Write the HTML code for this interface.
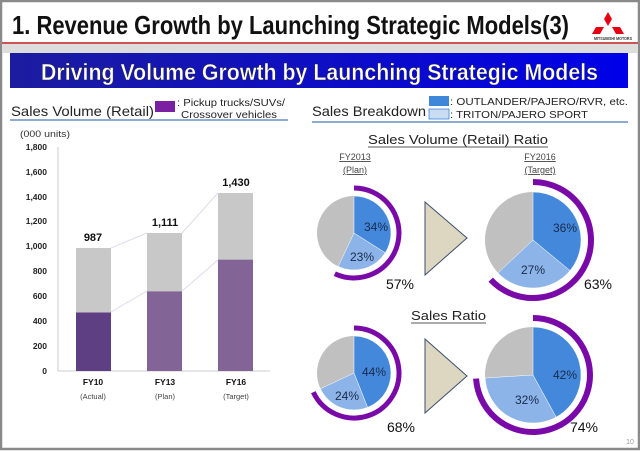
<!DOCTYPE html>
<html><head><style>
body{margin:0;background:#fff}
svg{display:block;font-family:"Liberation Sans",Arial,sans-serif}
</style></head><body>
<svg width="640" height="451" viewBox="0 0 640 451" xmlns="http://www.w3.org/2000/svg" font-family="Liberation Sans, Arial, sans-serif">
<defs>
<linearGradient id="bn" x1="0" x2="1" y1="0" y2="0"><stop offset="0" stop-color="#1c1ca0"/><stop offset="1" stop-color="#0000e8"/></linearGradient>
</defs>
<rect x="0" y="0" width="640" height="451" fill="#fff"/>
<rect x="1" y="1" width="638" height="448" fill="none" stroke="#8a8a8a" stroke-width="2.5"/>
<text x="12" y="34" font-size="26" font-weight="bold" fill="#111" textLength="557" lengthAdjust="spacingAndGlyphs">1. Revenue Growth by Launching Strategic Models(3)</text>
<polygon points="608,12 612,19 608,26 604,19" fill="#e60012"/>
<polygon points="604,27 600,34 592,34 596,27" fill="#e60012"/>
<polygon points="612,27 620,27 624,34 616,34" fill="#e60012"/>
<text x="594" y="40" font-size="4.5" fill="#333" font-weight="bold" textLength="38" lengthAdjust="spacingAndGlyphs">MITSUBISHI MOTORS</text>
<rect x="2" y="42" width="636" height="2" fill="#c55"/>
<rect x="2" y="44" width="636" height="9" fill="#ddd"/>
<rect x="10" y="53" width="618" height="35" fill="url(#bn)"/>
<text x="41" y="80" font-size="23" font-weight="bold" fill="#fff" stroke="#223" stroke-width="0.4" textLength="557" lengthAdjust="spacingAndGlyphs">Driving Volume Growth by Launching Strategic Models</text>
<text x="11" y="116" font-size="14" fill="#222" textLength="143" lengthAdjust="spacingAndGlyphs">Sales Volume (Retail)</text>
<rect x="155" y="101" width="20" height="11" fill="#7a1fa2"/>
<text x="177" y="106" font-size="10" fill="#222" textLength="108" lengthAdjust="spacingAndGlyphs">: Pickup trucks/SUVs/</text>
<text x="181" y="118" font-size="10" fill="#222" textLength="96" lengthAdjust="spacingAndGlyphs">Crossover vehicles</text>
<line x1="10" y1="120" x2="288" y2="120" stroke="#4a7bb5" stroke-width="1.2"/>
<text x="312" y="116" font-size="14" fill="#222" textLength="114" lengthAdjust="spacingAndGlyphs">Sales Breakdown</text>
<rect x="429" y="96" width="20" height="10" fill="#3f87d9"/>
<rect x="429" y="109" width="20" height="10" fill="#c9dcf2" stroke="#3f87d9" stroke-width="0.8"/>
<text x="450" y="105" font-size="10" fill="#222" textLength="178" lengthAdjust="spacingAndGlyphs">: OUTLANDER/PAJERO/RVR, etc.</text>
<text x="450" y="118" font-size="10" fill="#222" textLength="138" lengthAdjust="spacingAndGlyphs">: TRITON/PAJERO SPORT</text>
<line x1="312" y1="122" x2="628" y2="122" stroke="#4a7bb5" stroke-width="1.2"/>
<!-- bar chart -->
<text x="20" y="137" font-size="9" fill="#333" textLength="50" lengthAdjust="spacingAndGlyphs">(000 units)</text>
<g font-size="8.5" font-weight="bold" fill="#222" text-anchor="end">
<text x="47" y="374">0</text><text x="47" y="349">200</text><text x="47" y="324">400</text><text x="47" y="299">600</text><text x="47" y="274">800</text><text x="47" y="249">1,000</text><text x="47" y="224">1,200</text><text x="47" y="200">1,400</text><text x="47" y="175">1,600</text><text x="47" y="150">1,800</text>
</g>
<line x1="58" y1="147" x2="58" y2="371" stroke="#ccc"/>
<line x1="58" y1="371" x2="270" y2="371" stroke="#ccc"/>
<g stroke="#dcdcee" stroke-width="1">
<line x1="111" y1="248" x2="147" y2="233"/><line x1="182" y1="233" x2="218" y2="193"/>
<line x1="111" y1="312" x2="147" y2="291"/><line x1="182" y1="291" x2="218" y2="260"/>
</g>
<rect x="76" y="248" width="35" height="123" fill="#c8c8c8"/>
<rect x="76" y="312.5" width="35" height="58.5" fill="#5f3f84"/>
<rect x="147" y="233" width="35" height="138" fill="#c8c8c8"/>
<rect x="147" y="291.4" width="35" height="79.6" fill="#836496"/>
<rect x="218" y="193" width="35" height="178" fill="#c8c8c8"/>
<rect x="218" y="259.7" width="35" height="111.3" fill="#836496"/>
<g font-size="11" font-weight="bold" fill="#111" text-anchor="middle">
<text x="93" y="241">987</text><text x="165" y="226">1,111</text><text x="236" y="186">1,430</text>
</g>
<g font-size="8.5" font-weight="bold" fill="#111" text-anchor="middle">
<text x="93" y="385">FY10</text><text x="165" y="385">FY13</text><text x="236" y="385">FY16</text>
</g>
<g font-size="7.5" fill="#444" text-anchor="middle">
<text x="93" y="399">(Actual)</text><text x="165" y="399">(Plan)</text><text x="236" y="399">(Target)</text>
</g>
<!-- right -->
<text x="368" y="144" font-size="13" fill="#222" textLength="180" lengthAdjust="spacingAndGlyphs">Sales Volume (Retail) Ratio</text>
<line x1="368" y1="147" x2="548" y2="147" stroke="#222" stroke-width="0.8"/>
<g font-size="9" fill="#444" text-anchor="middle" text-decoration="underline">
<text x="355" y="160">FY2013</text><text x="355" y="173">(Plan)</text>
<text x="540" y="160">FY2016</text><text x="540" y="173">(Target)</text>
</g>
<text x="411" y="320" font-size="13" fill="#222" textLength="75" lengthAdjust="spacingAndGlyphs">Sales Ratio</text>
<line x1="411" y1="323" x2="486" y2="323" stroke="#222" stroke-width="0.8"/>
<polygon points="425,202 467,238 425,275" fill="#ddd6c0" stroke="#3a5070" stroke-width="1"/>
<polygon points="425,339 467,376 425,413" fill="#ddd6c0" stroke="#3a5070" stroke-width="1"/>
<!-- pie1 -->
<circle cx="354" cy="233" r="37" fill="#c0c0c0"/>
<path d="M354,233 L354,196 A37,37 0 0 1 385.2,252.8 Z" fill="#4388db" stroke="#fff" stroke-width="0.5"/>
<path d="M354,233 L385.2,252.8 A37,37 0 0 1 338.2,266.5 Z" fill="#8cb4e8" stroke="#fff" stroke-width="0.5"/>
<path d="M354,188 A45,45 0 1 1 334.8,273.7" fill="none" stroke="#7a0aa8" stroke-width="5"/>
<!-- pie2 -->
<circle cx="533" cy="240" r="48" fill="#c0c0c0"/>
<path d="M533,240 L533,192 A48,48 0 0 1 570,270.6 Z" fill="#4388db" stroke="#fff" stroke-width="0.5"/>
<path d="M533,240 L570,270.6 A48,48 0 0 1 498,272.9 Z" fill="#8cb4e8" stroke="#fff" stroke-width="0.5"/>
<path d="M533,182 A58,58 0 1 1 490.7,279.7" fill="none" stroke="#7a0aa8" stroke-width="6"/>
<!-- pie3 -->
<circle cx="354" cy="373" r="37" fill="#c0c0c0"/>
<path d="M354,373 L354,336 A37,37 0 0 1 367.6,407.4 Z" fill="#4388db" stroke="#fff" stroke-width="0.5"/>
<path d="M354,373 L367.6,407.4 A37,37 0 0 1 320.5,388.8 Z" fill="#8cb4e8" stroke="#fff" stroke-width="0.5"/>
<path d="M354,328 A45,45 0 1 1 313.3,392.2" fill="none" stroke="#7a0aa8" stroke-width="5"/>
<!-- pie4 -->
<circle cx="533" cy="375" r="48" fill="#c0c0c0"/>
<path d="M533,375 L533,327 A48,48 0 0 1 556.1,417.1 Z" fill="#4388db" stroke="#fff" stroke-width="0.5"/>
<path d="M533,375 L556.1,417.1 A48,48 0 0 1 485.1,378 Z" fill="#8cb4e8" stroke="#fff" stroke-width="0.5"/>
<path d="M533,318 A57,57 0 1 1 476.1,378.6" fill="none" stroke="#7a0aa8" stroke-width="6"/>
<g font-size="12" fill="#1a2a4a" text-anchor="middle">
<text x="376" y="231">34%</text><text x="362" y="261">23%</text>
<text x="565" y="232">36%</text><text x="533" y="274">27%</text>
<text x="374" y="376">44%</text><text x="347" y="400">24%</text>
<text x="565" y="379">42%</text><text x="527" y="404">32%</text>
</g>
<g font-size="14" fill="#111" text-anchor="middle">
<text x="400" y="289">57%</text><text x="598" y="289">63%</text>
<text x="401" y="432">68%</text><text x="584" y="432">74%</text>
</g>
<text x="630" y="444" font-size="7" fill="#999" text-anchor="middle">10</text>
</svg>
</body></html>
